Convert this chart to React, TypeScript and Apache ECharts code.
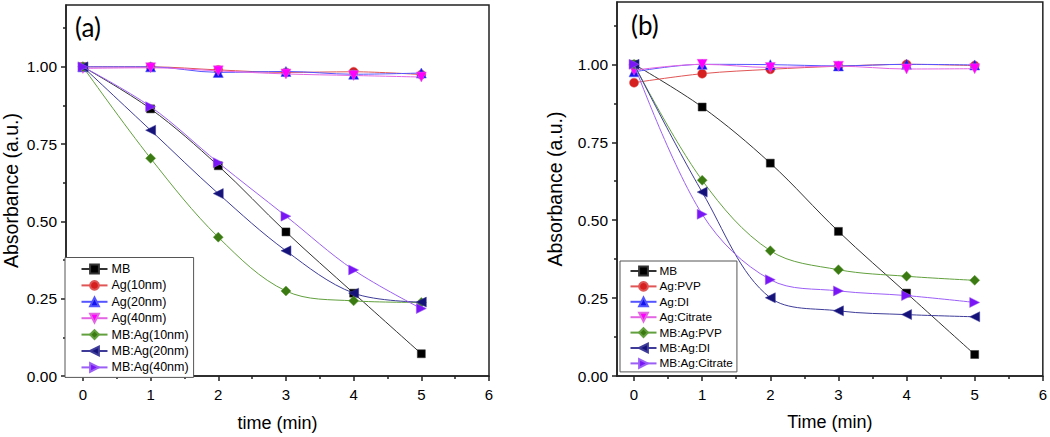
import React, { useEffect, useRef } from "react";
import * as echarts from "echarts";

// ---- data ----
const timeMin = [0, 1, 2, 3, 4, 5];

// panel (a)
const namesA = ["MB", "Ag(10nm)", "Ag(20nm)", "Ag(40nm)", "MB:Ag(10nm)", "MB:Ag(20nm)", "MB:Ag(40nm)"];
const aMB = [1.0, 0.864, 0.68, 0.466, 0.268, 0.072];
const aAg10 = [1.0, 1.0, 0.99, 0.982, 0.984, 0.975];
const aAg20 = [1.0, 1.0, 0.982, 0.985, 0.976, 0.98];
const aAg40 = [0.995, 0.997, 0.987, 0.977, 0.972, 0.967];
const aMBAg10 = [1.0, 0.704, 0.449, 0.275, 0.243, 0.238];
const aMBAg20 = [1.0, 0.795, 0.59, 0.405, 0.268, 0.239];
const aMBAg40 = [1.0, 0.871, 0.69, 0.517, 0.343, 0.218];

// panel (b)
const namesB = ["MB", "Ag:PVP", "Ag:DI", "Ag:Citrate", "MB:Ag:PVP", "MB:Ag:DI", "MB:Ag:Citrate"];
const bMB = [1.0, 0.863, 0.683, 0.464, 0.266, 0.069];
const bAgPVP = [0.941, 0.97, 0.984, 0.994, 1.0, 0.996];
const bAgDI = [0.976, 1.0, 0.999, 0.995, 1.0, 0.998];
const bAgCitrate = [0.981, 1.0, 0.99, 0.994, 0.985, 0.986];
const bMBAgPVP = [1.0, 0.628, 0.402, 0.341, 0.32, 0.307];
const bMBAgDI = [1.0, 0.59, 0.251, 0.209, 0.197, 0.19];
const bMBAgCitrate = [1.0, 0.519, 0.309, 0.273, 0.258, 0.236];

const yMajor = [0, 0.25, 0.5, 0.75, 1.0];
const yMinor = [0.125, 0.375, 0.625, 0.875, 1.125];
const xMajor = [0, 1, 2, 3, 4, 5, 6];
const xMinor = [0.5, 1.5, 2.5, 3.5, 4.5, 5.5];

// style per series slot (same order in both panels)
const styles = [
  { symbol: "rect", rot: 0, size: 8, fill: "#000000", line: "#333333" },
  { symbol: "circle", rot: 0, size: 9, fill: "#d61f1f", line: "#e05555" },
  { symbol: "triangle", rot: 0, size: 10, fill: "#1414ee", line: "#5555ff" },
  { symbol: "triangle", rot: 180, size: 10, fill: "#ff00ff", line: "#e465e4" },
  { symbol: "diamond", rot: 0, size: 10, fill: "#3b7a12", line: "#62a03e" },
  { symbol: "triangle", rot: 90, size: 10, fill: "#15137a", line: "#3e3c98" },
  { symbol: "triangle", rot: -90, size: 10, fill: "#7a16f5", line: "#9c5ff6" },
];

const FONT = "'Liberation Sans', Arial, sans-serif";

export default function App() {
  const ref = useRef<HTMLDivElement>(null);

  useEffect(() => {
    document.body.style.margin = "0";
    if (!ref.current) return;
    const chart = echarts.init(ref.current, undefined, { renderer: "svg" });

    const seriesA = [aMB, aAg10, aAg20, aAg40, aMBAg10, aMBAg20, aMBAg40];
    const seriesB = [bMB, bAgPVP, bAgDI, bAgCitrate, bMBAgPVP, bMBAgDI, bMBAgCitrate];

    const mkSeries = (names: string[], arrs: number[][], axisIdx: number) =>
      arrs.map((arr, i) => ({
        type: "line",
        name: names[i],
        xAxisIndex: axisIdx * 2,
        yAxisIndex: axisIdx * 2,
        data: timeMin.map((t, k) => [t, arr[k]]),
        smooth: 0.35,
        symbol: styles[i].symbol,
        symbolRotate: styles[i].rot,
        symbolSize: styles[i].size,
        showSymbol: true,
        itemStyle: { color: styles[i].fill, borderColor: styles[i].line, borderWidth: 0.5, opacity: 1 },
        lineStyle: { color: styles[i].line, width: 1 },
        emphasis: { disabled: true },
        z: 2 + i,
      }));

    const grids = [
      { left: 62, right: 1050 - 489, top: 5, bottom: 437 - 380 },
      { left: 617, right: 1050 - 1046, top: 2, bottom: 437 - 376 },
    ];

    const axisLineStyle = { color: "#222", width: 1.5 };

    const xAxes: any[] = [];
    const yAxes: any[] = [];
    const titles = [
      { x: "time (min)", y: "Absorbance (a.u.)", yGap: 45, xGap: 38 },
      { x: "Time (min)", y: "Absorbance (a.u.)", yGap: 52, xGap: 37 },
    ];
    for (let g = 0; g < 2; g++) {
      xAxes.push({
        type: "value",
        gridIndex: g,
        min: -0.25,
        max: 6,
        position: "bottom",
        name: titles[g].x,
        nameLocation: "middle",
        nameGap: titles[g].xGap,
        nameTextStyle: { fontFamily: FONT, fontSize: 18, color: "#000" },
        axisLine: { show: true, onZero: false, lineStyle: axisLineStyle },
        axisTick: { show: true, inside: false, length: 5, customValues: xMajor, lineStyle: axisLineStyle },
        axisLabel: {
          show: true,
          customValues: xMajor,
          margin: 11,
          fontFamily: FONT,
          fontSize: 15,
          color: "#000",
          formatter: (v: number) => String(v),
        },
        splitLine: { show: false },
      });
      xAxes.push({
        type: "value",
        gridIndex: g,
        min: -0.25,
        max: 6,
        position: "bottom",
        axisLine: { show: false, onZero: false },
        axisTick: { show: true, inside: false, length: 3, customValues: xMinor, lineStyle: axisLineStyle },
        axisLabel: { show: false },
        splitLine: { show: false },
      });
      yAxes.push({
        type: "value",
        gridIndex: g,
        min: 0,
        max: 1.2,
        position: "left",
        name: titles[g].y,
        nameLocation: "middle",
        nameGap: titles[g].yGap,
        nameTextStyle: { fontFamily: FONT, fontSize: 19.5, color: "#000" },
        axisLine: { show: true, onZero: false, lineStyle: axisLineStyle },
        axisTick: { show: true, inside: false, length: 5, customValues: yMajor, lineStyle: axisLineStyle },
        axisLabel: {
          show: true,
          customValues: yMajor,
          margin: 9,
          fontFamily: FONT,
          fontSize: 15.5,
          color: "#000",
          formatter: (v: number) => v.toFixed(2),
        },
        splitLine: { show: false },
      });
      yAxes.push({
        type: "value",
        gridIndex: g,
        min: 0,
        max: 1.2,
        position: "left",
        axisLine: { show: false, onZero: false },
        axisTick: { show: true, inside: false, length: 3, customValues: yMinor, lineStyle: axisLineStyle },
        axisLabel: { show: false },
        splitLine: { show: false },
      });
    }

    const legendCommon = {
      orient: "vertical",
      backgroundColor: "#fff",
      borderColor: "#555",
      borderWidth: 1,
      borderRadius: 0,
      itemWidth: 26,
      itemHeight: 11,
      selectedMode: false,
    };

    chart.setOption({
      animation: false,
      grid: grids.map((g) => ({ ...g, show: true, borderColor: "#222", borderWidth: 1.5, backgroundColor: "transparent" })),
      xAxis: xAxes,
      yAxis: yAxes,
      legend: [
        {
          ...legendCommon,
          data: namesA,
          left: 65,
          top: 257.5,
          padding: [4.5, 5, 3, 15.5],
          itemGap: 2.4,
          textStyle: { fontFamily: FONT, fontSize: 12.5, color: "#000", lineHeight: 14, padding: [0, 0, 0, -1] },
        },
        {
          ...legendCommon,
          data: namesB,
          left: 620,
          top: 261,
          padding: [3.5, 4, 2, 9.5],
          itemGap: 2.4,
          textStyle: { fontFamily: FONT, fontSize: 11.8, color: "#000", lineHeight: 13, padding: [0, 0, 0, -2] },
        },
      ],
      graphic: [
        { type: "text", x: 75, y: 14, style: { text: "(a)", fontFamily: "Lato, 'Open Sans', sans-serif", fontSize: 26, fill: "#000" } },
        { type: "text", x: 631, y: 12, style: { text: "(b)", fontFamily: "Lato, 'Open Sans', sans-serif", fontSize: 26, fill: "#000" } },
      ],
      series: [...mkSeries(namesA, seriesA, 0), ...mkSeries(namesB, seriesB, 1)],
    });

    return () => {
      chart.dispose();
    };
  }, []);

  return (
    <div
      ref={ref}
      style={{ width: 1050, height: 437, position: "absolute", left: 0, top: 0, background: "#fff" }}
    />
  );
}
